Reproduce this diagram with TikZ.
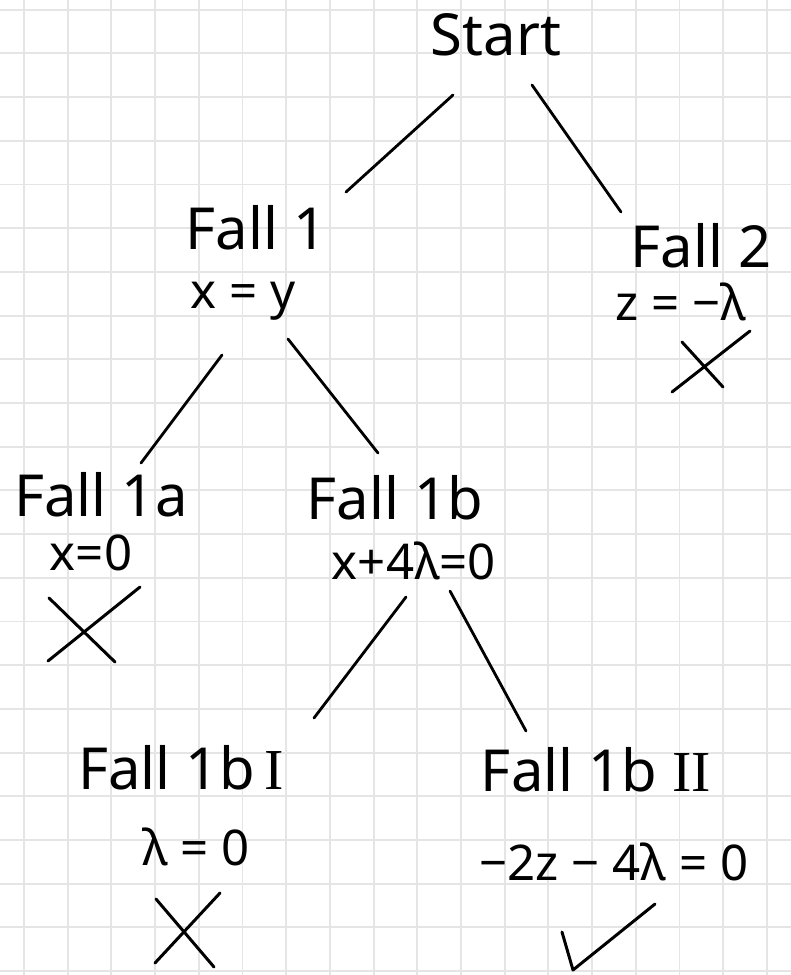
\documentclass[tikz,border=0pt]{standalone}
\usepackage{fontspec}
\setmainfont{Noto Sans}
\newfontfamily\romannum{Liberation Serif}
\usetikzlibrary{positioning}

\begin{document}
\begin{tikzpicture}[x=0.02cm,y=-0.02cm,
  gridline/.style={draw=black!10,line width=1.1pt},
  branch/.style={line width=1.6pt,line cap=round},
  stroke/.style={line width=1.7pt,line cap=round,line join=round},
  case/.style={font=\fontsize{33}{38}\selectfont,inner sep=1pt},
  cond/.style={font=\fontsize{28}{32}\selectfont,inner sep=1pt}]
\useasboundingbox (0,0) rectangle (791,975);
\fill[white] (0,0) rectangle (791,975);
% squared paper
\foreach \i in {0,...,17} \draw[gridline] (24+43.7*\i,0) -- (24+43.7*\i,975);
\foreach \j in {0,...,22} \draw[gridline] (0,9.7+43.7*\j) -- (791,9.7+43.7*\j);

% cases
\node[case] (start) at (496,35) {Start};
\node[case] (f1) at (256,228) {Fall 1};
\node[cond] (c1) at (243,301) {x = y};
\node[case] (f2) at (701,246) {Fall 2};
\node[cond] (c2) at (681,302) {z = −λ};
\node[case] (f1a) at (101,495) {Fall 1a};
\node[cond] (c1a) at (91,553) {x=0};
\node[case] (f1b) at (395,498) {Fall 1b};
\node[cond] (c1b) at (414,561) {x+4λ=0};
\node[case] (f1bI) at (181,768) {Fall 1b\,{\romannum I}};
\node[cond] (c1bI) at (196,847) {λ = 0};
\node[case] (f1bII) at (596,770) {Fall 1b {\romannum II}};
\node[cond] (c1bII) at (614,862) {−2z − 4λ = 0};

% branches
\draw[branch] ([shift={(-43,60)}]start.center) -- ([shift={(90,-36)}]f1.center);
\draw[branch] ([shift={(36,50)}]start.center) -- ([shift={(-80,-34)}]f2.center);
\draw[branch] ([shift={(-21,54)}]c1.center) -- ([shift={(40,-32)}]f1a.center);
\draw[branch] ([shift={(45,38)}]c1.center) -- ([shift={(-17,-45)}]f1b.center);
\draw[branch] ([shift={(-8,36)}]c1b.center) -- ([shift={(133,-50)}]f1bI.center);
\draw[branch] ([shift={(36,30)}]c1b.center) -- ([shift={(-70,-39)}]f1bII.center);

% dead ends and solution
\draw[stroke] (672,392) -- (750,331) (682,342) -- (723,387);
\draw[stroke] (48,661) -- (140,587) (49,598) -- (115,662);
\draw[stroke] (155,963) -- (220,893) (156,899) -- (214,967);
\draw[stroke] (562,932) -- (573,970) -- (655,904);
\end{tikzpicture}
\end{document}
